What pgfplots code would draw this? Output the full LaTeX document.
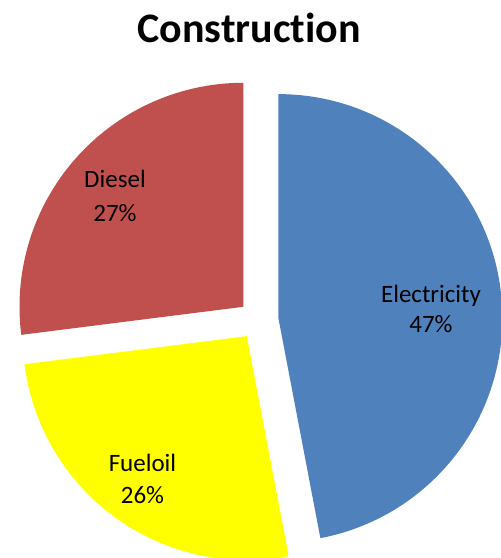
\documentclass[border=0pt]{standalone}
\usepackage{pgfplots}
\usepackage{pgfplotstable}
\usepackage{fontspec}
\setmainfont{Carlito}[Ligatures=NoCommon]
\pgfplotsset{compat=1.18}

\definecolor{pie0}{HTML}{4F81BD}
\definecolor{pie1}{HTML}{FFFF00}
\definecolor{pie2}{HTML}{C0504D}

% slices clockwise from 12 o'clock
\pgfplotstableread{
label value
Electricity 47
Fueloil 26
Diesel 27
}\piedata

\newcommand\pcx{258.5}
\newcommand\pcy{238}
\newcommand\prad{224}
\newcommand\poff{20}
\gdef\piecum{0}

\newcommand\pieslice[1]{%
  \pgfplotstablegetelem{#1}{value}\of\piedata
  \let\pval\pgfplotsretval
  \pgfmathsetmacro\pa{90-3.6*\piecum}%
  \pgfmathsetmacro\pb{90-3.6*(\piecum+\pval)}%
  \pgfmathsetmacro\pmid{(\pa+\pb)/2}%
  \pgfmathsetmacro\pvx{\pcx+\poff*cos(\pmid)}%
  \pgfmathsetmacro\pvy{\pcy+\poff*sin(\pmid)}%
  \pgfmathsetmacro\psx{\pvx+\prad*cos(\pa)}%
  \pgfmathsetmacro\psy{\pvy+\prad*sin(\pa)}%
  \edef\piecmd{\noexpand\fill[pie#1] (axis cs:\pvx,\pvy) -- (axis cs:\psx,\psy)
    arc[start angle=\pa, end angle=\pb, radius=\prad pt] -- cycle;}%
  \piecmd
  \pgfmathsetmacro\pnext{\piecum+\pval}%
  \xdef\piecum{\pnext}%
}

\begin{document}
\begin{tikzpicture}
\begin{axis}[
  name=ax,
  width=501pt, height=558pt, scale only axis,
  xmin=0, xmax=501, ymin=0, ymax=558,
  hide axis,
]
\pieslice{0}
\pieslice{1}
\pieslice{2}

\node[font=\fontsize{42}{50}\selectfont\bfseries, anchor=base] at (axis cs:249,515.5) {Construction};
\node[font=\fontsize{25}{30}\selectfont, anchor=base] at (axis cs:431,255.3) {Electricity};
\node[font=\fontsize{25}{30}\selectfont, anchor=base] at (axis cs:431,225) {47\%};
\node[font=\fontsize{25}{30}\selectfont, anchor=base] at (axis cs:115,370) {Diesel};
\node[font=\fontsize{25}{30}\selectfont, anchor=base] at (axis cs:115,336) {27\%};
\node[font=\fontsize{25}{30}\selectfont, anchor=base] at (axis cs:142.5,86.3) {Fueloil};
\node[font=\fontsize{25}{30}\selectfont, anchor=base] at (axis cs:142.5,54) {26\%};
\end{axis}
\pgfresetboundingbox
\useasboundingbox (ax.south west) rectangle (ax.north east);
\end{tikzpicture}
\end{document}
